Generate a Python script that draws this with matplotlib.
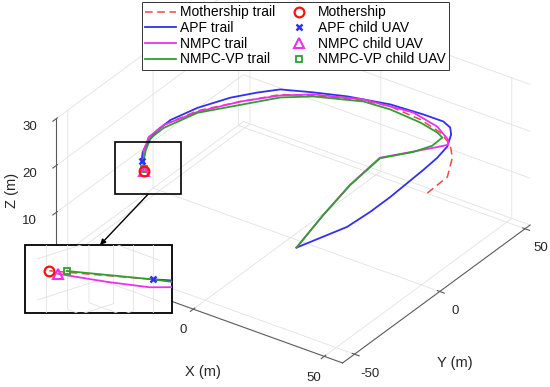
import numpy as np
import matplotlib
matplotlib.use("Agg")
import matplotlib.pyplot as plt
from matplotlib.patches import Rectangle, FancyArrowPatch

plt.rcParams["font.family"] = ["Liberation Sans", "DejaVu Sans"]
plt.rcParams["axes.unicode_minus"] = False
plt.rcParams["grid.color"] = "#e2e2e2"
plt.rcParams["grid.linewidth"] = 0.6
plt.rcParams["axes.edgecolor"] = "#5a5a5a"
plt.rcParams["axes.linewidth"] = 0.8
plt.rcParams["xtick.color"] = "#5a5a5a"
plt.rcParams["ytick.color"] = "#5a5a5a"
plt.rcParams["xtick.labelcolor"] = "#262626"
plt.rcParams["ytick.labelcolor"] = "#262626"

# ---- trails in metres (oldest sample first) ----
ms_x = [52.2, 51.7, 46.3, 41.2, 34.4, 24.8, 12.5, 3.5, -11.0, -19.8, -27.6, -35.4, -39.1, -38.7, -35.4, -31.9, -28.0]
ms_y = [0.1, 12.6, 23.8, 30.4, 35.0, 38.1, 39.3, 37.3, 30.4, 24.5, 13.0, -0.2, -14.3, -23.7, -31.7, -37.1, -43.0]
ms_z = [20.0, 20.0, 20.0, 20.0, 20.0, 20.0, 20.0, 20.0, 20.0, 20.0, 20.0, 20.0, 20.0, 20.0, 20.0, 20.0, 20.0]

apf_x = [5.0, 18.1, 24.0, 29.2, 37.7, 41.3, 41.1, 37.9, 35.2, 31.3, 23.7, 11.8, -2.0, -12.1, -21.6, -26.4,
         -31.5, -36.4, -39.1, -38.9, -37.2, -35.0, -32.5]
apf_y = [-4.2, 5.4, 9.8, 13.6, 19.9, 22.5, 28.8, 36.0, 39.6, 41.5, 41.4, 40.4, 36.4, 32.0, 27.2, 21.1,
         13.2, 1.4, -10.3, -18.2, -26.6, -33.0, -37.4]
apf_z = [0.0, 4.5, 7.7, 10.9, 16.7, 19.3, 20.0, 20.0, 20.0, 20.0, 20.0, 20.0, 20.0, 20.0, 20.0, 20.0,
         20.0, 20.0, 20.0, 20.0, 20.0, 20.0, 19.75]

nmpc_x = [5.0, 11.3, 17.6, 24.6, 32.4, 37.9, 40.7, 38.9, 31.5, 20.5, 3.2, -11.4, -19.5, -27.6, -35.0,
          -39.1, -38.7, -35.4, -31.9, -30.5, -28.4]
nmpc_y = [-4.2, 1.8, 7.8, 14.6, 22.0, 27.4, 30.0, 32.7, 37.6, 40.5, 37.9, 30.9, 24.0, 13.0, -0.7,
          -14.3, -23.7, -31.7, -37.1, -39.9, -42.55]
nmpc_z = [0.0, 6.6, 12.7, 18.1, 19.0, 19.6, 20.0, 20.0, 20.0, 20.0, 20.0, 20.0, 20.0, 20.0, 20.0,
          20.0, 20.0, 20.0, 19.4, 19.4, 19.8]

vp_x = [5.0, 10.8, 16.7, 23.2, 30.3, 34.5, 36.7, 33.7, 25.8, 13.6, 3.9, -10.7, -18.8, -28.4, -34.7,
        -38.1, -37.9, -34.9, -31.9, -28.75]
vp_y = [-4.2, 2.5, 9.4, 16.9, 25.3, 30.1, 32.7, 34.4, 36.5, 37.7, 36.8, 29.8, 22.9, 8.3, -1.3,
        -16.0, -23.9, -31.3, -37.1, -42.06]
vp_z = [0.0, 6.3, 12.1, 17.1, 17.6, 18.5, 20.0, 20.0, 20.0, 20.0, 20.0, 20.0, 20.0, 20.0, 20.0,
        20.0, 20.0, 20.0, 20.0, 20.05]

x_ticks = [-50, 0, 50]
y_ticks = [-50, 0, 50]
z_ticks = [0, 10, 20, 30]

# grid spacing of the close-up view
in_x_ticks = [-32, -30, -28]
in_y_ticks = [-42, -40, -38]
in_z_ticks = [18, 21]

C_MS, C_APF, C_NMPC, C_VP = "#f04848", "#3030ee", "#ee30ee", "#2f9f2f"

W, H = 550, 387
fig = plt.figure(figsize=(W / 100, H / 100), dpi=100)


def draw_scene(a, clip=None):
    arts = []
    arts += a.plot(ms_x, ms_y, ms_z, color=C_MS, lw=1.1, dashes=(5, 3), label="Mothership trail")
    arts += a.plot(apf_x, apf_y, apf_z, color=C_APF, lw=1.3, label="APF trail")
    arts += a.plot(nmpc_x, nmpc_y, nmpc_z, color=C_NMPC, lw=1.3, label="NMPC trail")
    arts += a.plot(vp_x, vp_y, vp_z, color=C_VP, lw=1.3, label="NMPC-VP trail")
    arts += a.plot([vp_x[-1]], [vp_y[-1]], [vp_z[-1]], ls="none", marker="s", ms=5, mfc="none",
                   mec=C_VP, mew=1.3, label="NMPC-VP child UAV")
    arts += a.plot([nmpc_x[-1]], [nmpc_y[-1]], [nmpc_z[-1]], ls="none", marker="^", ms=7, mfc="none",
                   mec=C_NMPC, mew=1.5, label="NMPC child UAV")
    arts += a.plot([apf_x[-1]], [apf_y[-1]], [apf_z[-1]], ls="none", marker="x", ms=5, mec=C_APF,
                   mew=1.8, label="APF child UAV")
    arts += a.plot([ms_x[-1]], [ms_y[-1]], [ms_z[-1]], ls="none", marker="o", ms=7, mfc="none",
                   mec="#ff1010", mew=1.6, label="Mothership")
    if clip is not None:
        for art in arts:
            art.set_clip_path(clip)
    return arts


# ---- main 3D axes ----
S = 387
ax = fig.add_axes([(293 - 0.5135 * S) / W, (215 - 0.5135 * S) / H, S / W, S / H], projection="3d")
ax.set_proj_type("ortho")
ax.computed_zorder = False
ax.set_facecolor("none")
ax.view_init(elev=31, azim=-55)
ax.set_xlim(-52.5, 57, view_margin=0)
ax.set_ylim(-57, 53, view_margin=0)
ax.set_zlim(0, 30, view_margin=0)
ax.set_box_aspect((350, 327, 164), zoom=1.27)
ax.set_xticks(x_ticks)
ax.set_yticks(y_ticks)
ax.set_zticks(z_ticks)
ax.zaxis.set_ticks_position("lower")
for axis in (ax.xaxis, ax.yaxis, ax.zaxis):
    axis.set_pane_color((1, 1, 1, 0))
    axis.pane.set_edgecolor("#e2e2e2")
ax.tick_params(labelsize=9.5, pad=0)
arts = draw_scene(ax)

fig.text(203 / W, 1 - 372 / H, "X (m)", fontsize=10.5, ha="center", va="center", color="#262626")
fig.text(455 / W, 1 - 363 / H, "Y (m)", fontsize=10.5, ha="center", va="center", color="#262626")
fig.text(12 / W, 1 - 190 / H, "Z (m)", fontsize=10.5, ha="center", va="center", rotation=90,
         color="#262626")

order = [0, 1, 2, 3, 7, 6, 5, 4]
handles = [arts[i] for i in order]
leg = fig.legend(handles, [h.get_label() for h in handles], ncol=2, loc="upper center",
                 bbox_to_anchor=(295.5 / W, 1 - 2 / H), borderaxespad=0, fontsize=10,
                 labelspacing=0.12, borderpad=0.25, handlelength=2.2, handletextpad=0.3,
                 columnspacing=0.6, fancybox=False, framealpha=1)
leg.get_frame().set_edgecolor("#333333")
leg.get_frame().set_linewidth(0.7)

# ---- inset: close-up of the child UAVs ----
in_l, in_t, in_w, in_h = 25, 245, 147, 68
frame = Rectangle((in_l / W, (H - in_t - in_h) / H), in_w / W, in_h / H, transform=fig.transFigure,
                  facecolor="white", edgecolor="black", lw=1.3, zorder=1)
fig.add_artist(frame)
clip_rect = Rectangle((in_l / W, (H - in_t - in_h) / H), in_w / W, in_h / H, transform=fig.transFigure)

Si = 147
cx, cy = in_l + in_w / 2, H - (in_t + in_h / 2)
ax_in = fig.add_axes([(cx - 0.5135 * Si) / W, (cy - 0.5135 * Si) / H, Si / W, Si / H], projection="3d")
ax_in.set_zorder(2)
ax_in.set_proj_type("ortho")
ax_in.computed_zorder = False
ax_in.patch.set_alpha(0)
ax_in.view_init(elev=20, azim=47)
ax_in.set_xlim(-33.1, -27.1, view_margin=0)
ax_in.set_ylim(-43.3, -37.3, view_margin=0)
ax_in.set_zlim(16.6, 22.6, view_margin=0)
ax_in.set_box_aspect((1, 1, 1), zoom=1.0)
ax_in.set_xticks(in_x_ticks)
ax_in.set_yticks(in_y_ticks)
ax_in.set_zticks(in_z_ticks)
ax_in.set_xticklabels([])
ax_in.set_yticklabels([])
ax_in.set_zticklabels([])
for axis in (ax_in.xaxis, ax_in.yaxis, ax_in.zaxis):
    axis.set_pane_color((1, 1, 1, 0))
    axis.pane.set_edgecolor((1, 1, 1, 0))
    axis.pane.set_clip_path(clip_rect)
    axis.line.set_color((1, 1, 1, 0))
    axis.set_tick_params(color=(1, 1, 1, 0))
    grid = getattr(axis, "gridlines", None)
    if grid is not None:
        grid.set_clip_path(clip_rect)
draw_scene(ax_in, clip=clip_rect)

# ---- zoom box around the UAVs and arrow to the inset ----
fig.canvas.draw()
M = ax.get_proj()
v = M @ np.array([ms_x[-1], ms_y[-1], ms_z[-1], 1.0])
mx, my = ax.transData.transform((v[0] / v[3], v[1] / v[3]))
fig.add_artist(Rectangle(((mx - 29) / W, (my - 23) / H), 66 / W, 52 / H, transform=fig.transFigure,
                         fill=False, edgecolor="black", lw=1.2, zorder=3))
fig.add_artist(FancyArrowPatch(((mx + 4) / W, (my - 23) / H), (100 / W, (H - in_t) / H),
                               transform=fig.transFigure, arrowstyle="-|>", mutation_scale=8,
                               lw=1.0, color="black", shrinkA=0, shrinkB=0, zorder=3))

fig.savefig("out.png", dpi=100)
